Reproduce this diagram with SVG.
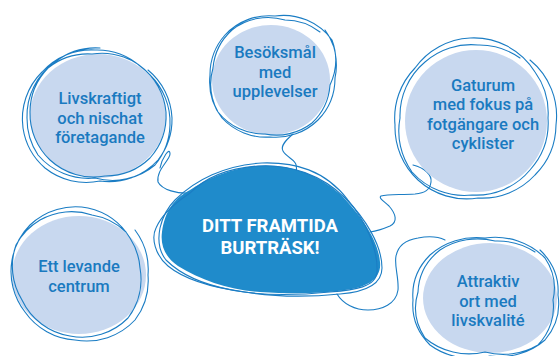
<svg xmlns="http://www.w3.org/2000/svg" width="560" height="356" viewBox="0 0 560 356">
<style>
.fill{fill:#c8d8ef}
.ol{fill:none;stroke:#1b7dc4;stroke-width:1.1;stroke-linejoin:round;stroke-linecap:round}
.t{font-family:Roboto,"Open Sans","Liberation Sans",sans-serif;font-size:16.5px;font-weight:500;fill:#1a7ac0;text-anchor:middle}
.ct{font-family:Roboto,"Open Sans","Liberation Sans",sans-serif;font-size:18.5px;font-weight:700;fill:#ffffff;text-anchor:middle}
</style>
<rect width="560" height="356" fill="#ffffff"/>
<g id="connectors">
<path class="ol" d="M 160 168 C 162 158, 170 146, 170 154 C 170 160, 156 170, 158 182 C 162 190, 178 194, 190 193"/>
<path class="ol" d="M 293 134 C 286 140, 280 146, 283 151 C 286 157, 296 160, 296 165 C 297 168, 296 170, 297 172"/>
<path class="ol" d="M 413 165 C 425 168, 432 175, 431 182 C 430 190, 425 193, 415 194 C 400 195, 388 194, 381 196 C 378 198, 385 202, 389 206 C 396 214, 398 222, 390 226 C 383 229, 377 231, 370 232"/>
<path class="ol" d="M 337 294 C 343 304, 355 310, 368 310 C 382 310, 396 304, 398 290 C 399 278, 394 265, 396 256 C 398 246, 405 240, 418 238 C 428 236, 437 236, 445 240"/>
</g>
<g id="center">
<path fill="#1f8bcb" d="M 162 232 C 165 210, 175 198, 190 190 C 205 180, 225 170, 255 166 C 285 163, 315 172, 340 194 C 358 212, 378 238, 380 262 C 382 280, 365 288, 345 290 C 320 294, 290 294, 260 292 C 230 290, 200 280, 178 266 C 166 258, 160 246, 162 232 Z"/>
<path class="ol" d="M 190 193 C 205 178, 228 168, 258 166 C 290 164, 322 175, 345 198 C 365 218, 382 245, 382 268 C 382 284, 365 292, 340 294 C 310 297, 275 297, 245 292 C 215 288, 185 280, 168 266 C 155 255, 151 238, 156 228 C 162 214, 175 203, 190 193 Z"/>
<path class="ol" d="M 175 200 C 195 180, 225 165, 262 163 C 295 162, 325 170, 348 200 C 366 222, 378 248, 377 272 C 376 287, 355 290, 330 292 C 300 295, 262 296, 232 290 C 205 285, 182 276, 166 260 C 158 250, 158 238, 160 228 C 163 215, 168 207, 175 200 Z"/>
<text class="ct" x="270" y="232"><tspan x="270" y="231.5">DITT FRAMTIDA</tspan><tspan x="270" y="253.5">BURTRÄSK!</tspan></text>
</g>
<g id="node-livskraftigt">
<ellipse class="fill" cx="98" cy="116" rx="68" ry="62"/>
<path class="ol" d="M 148 70 A 66 66 0 0 1 172 118 A 66 66 0 0 1 158 160 A 66 66 0 0 1 100 181 A 66 66 0 0 1 45 168 A 66 66 0 0 1 23 128 A 66 66 0 0 1 42 72 A 66 66 0 0 1 95 50 A 66 66 0 0 1 140 66 A 64 64 0 0 1 166 112 A 64 64 0 0 1 150 158 A 64 64 0 0 1 105 176 A 64 64 0 0 1 50 160 A 64 64 0 0 1 30 112 A 64 64 0 0 1 48 68 A 64 64 0 0 1 92 54 A 64 64 0 0 1 150 75 A 66 66 0 0 1 170 125 A 66 66 0 0 1 155 165 A 66 66 0 0 1 95 178 A 66 66 0 0 1 38 155 A 66 66 0 0 1 27 118 A 66 66 0 0 1 55 62 A 66 66 0 0 1 100 48"/>
<text class="t" x="100" y="104"><tspan x="100" y="104">Livskraftigt</tspan><tspan x="100" y="123.5">och nischat</tspan><tspan x="100" y="143">företagande</tspan></text>
</g>
<g id="node-besoksmal">
<ellipse class="fill" cx="271" cy="80" rx="59" ry="55"/>
<path class="ol" d="M 325 30 A 60 60 0 0 1 335 78 A 60 60 0 0 1 318 120 A 60 60 0 0 1 270 137 A 60 60 0 0 1 222 118 A 60 60 0 0 1 210 75 A 60 60 0 0 1 225 35 A 60 60 0 0 1 275 16 A 60 60 0 0 1 332 40 A 58 58 0 0 1 330 85 A 58 58 0 0 1 312 123 A 58 58 0 0 1 265 134 A 58 58 0 0 1 218 112 A 58 58 0 0 1 213 68 A 58 58 0 0 1 232 30 A 58 58 0 0 1 285 20 A 58 58 0 0 1 320 32"/>
<text class="t" x="275" y="58"><tspan x="275" y="58">Besöksmål</tspan><tspan x="275" y="77.5">med</tspan><tspan x="275" y="97">upplevelser</tspan></text>
</g>
<g id="node-gaturum">
<ellipse class="fill" cx="476" cy="121" rx="71" ry="71"/>
<path class="ol" d="M 530 60 A 72 72 0 0 1 556 125 A 72 72 0 0 1 535 175 A 72 72 0 0 1 478 198 A 72 72 0 0 1 418 180 A 72 72 0 0 1 395 125 A 72 72 0 0 1 415 68 A 72 72 0 0 1 470 38 A 72 72 0 0 1 535 72 A 70 70 0 0 1 548 118 A 70 70 0 0 1 530 170 A 70 70 0 0 1 472 195 A 70 70 0 0 1 412 172 A 70 70 0 0 1 400 118 A 70 70 0 0 1 425 62 A 70 70 0 0 1 478 45 A 70 70 0 0 1 520 58"/>
<text class="t" x="483" y="91"><tspan x="483" y="90.5">Gaturum</tspan><tspan x="483" y="110">med fokus på</tspan><tspan x="483" y="129.5">fotgängare och</tspan><tspan x="483" y="149">cyklister</tspan></text>
</g>
<g id="node-ett-levande">
<ellipse class="fill" cx="79" cy="275" rx="67" ry="59"/>
<path class="ol" d="M 135 230 A 66 66 0 0 1 148 275 A 66 66 0 0 1 135 320 A 66 66 0 0 1 75 340 A 66 66 0 0 1 25 312 A 66 66 0 0 1 12 260 A 66 66 0 0 1 30 225 A 66 66 0 0 1 88 208 A 66 66 0 0 1 130 238 A 64 64 0 0 1 140 268 A 64 64 0 0 1 128 318 A 64 64 0 0 1 70 336 A 64 64 0 0 1 22 300 A 64 64 0 0 1 16 245 A 64 64 0 0 1 40 220 A 64 64 0 0 1 92 215 A 64 64 0 0 1 126 232"/>
<text class="t" x="79" y="272"><tspan x="79" y="272">Ett levande</tspan><tspan x="79" y="291.5">centrum</tspan></text>
</g>
<g id="node-attraktiv">
<ellipse class="fill" cx="490" cy="298" rx="67" ry="55"/>
<path class="ol" d="M 540 250 A 66 60 0 0 1 558 295 A 66 60 0 0 1 545 340 A 66 60 0 0 1 490 356 A 66 60 0 0 1 430 345 A 66 60 0 0 1 413 300 A 66 60 0 0 1 430 255 A 66 60 0 0 1 485 238 A 66 60 0 0 1 545 258 A 64 58 0 0 1 553 300 A 64 58 0 0 1 538 345 A 64 58 0 0 1 485 352 A 64 58 0 0 1 425 338 A 64 58 0 0 1 418 292 A 64 58 0 0 1 440 250 A 64 58 0 0 1 495 241 A 64 58 0 0 1 535 252"/>
<text class="t" x="488" y="287"><tspan x="488" y="287">Attraktiv</tspan><tspan x="488" y="306.5">ort med</tspan><tspan x="488" y="326">livskvalité</tspan></text>
</g>
</svg>
